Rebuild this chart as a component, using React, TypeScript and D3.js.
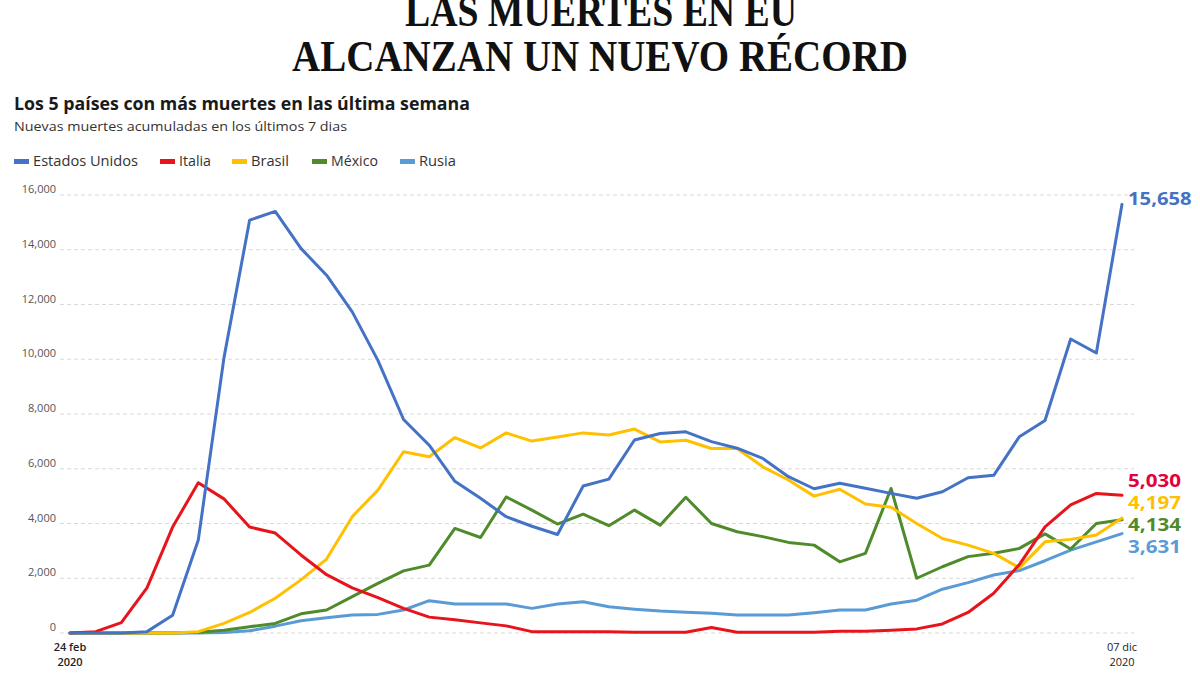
import React from "react";
import * as d3 from "d3";

const xLabels = [
  { idx: 0, l1: "24 feb", l2: "2020" },
  { idx: 41, l1: "07 dic", l2: "2020" },
];

const yTicks = [0, 2000, 4000, 6000, 8000, 10000, 12000, 14000, 16000];

const usa = [0, 0, 0, 50, 650, 3400, 10050, 15080, 15400, 14050, 13070, 11730, 9960, 7800, 6860, 5540, 4920, 4250, 3900, 3600, 5370, 5620, 7050, 7290, 7350, 6990, 6750, 6380, 5710, 5270, 5470, 5290, 5100, 4920, 5160, 5670, 5760, 7170, 7760, 10740, 10230, 15658];
const italia = [0, 50, 380, 1650, 3870, 5490, 4900, 3870, 3650, 2850, 2130, 1650, 1290, 900, 580, 480, 370, 260, 50, 50, 50, 50, 30, 30, 30, 200, 30, 30, 30, 30, 60, 60, 100, 150, 330, 750, 1450, 2500, 3880, 4680, 5100, 5030];
const brasil = [0, 0, 0, 0, 0, 50, 350, 750, 1270, 1940, 2700, 4250, 5220, 6620, 6440, 7140, 6760, 7310, 7010, 7160, 7310, 7230, 7450, 6980, 7040, 6740, 6740, 6070, 5590, 5000, 5250, 4710, 4590, 4000, 3450, 3210, 2910, 2380, 3330, 3420, 3580, 4197];
const mexico = [0, 0, 0, 0, 0, 30, 100, 230, 350, 700, 840, 1330, 1810, 2270, 2480, 3820, 3490, 4970, 4490, 3980, 4340, 3920, 4490, 3940, 4960, 4000, 3700, 3520, 3310, 3210, 2600, 2910, 5280, 2000, 2420, 2790, 2910, 3090, 3620, 3070, 4000, 4134];
const rusia = [0, 0, 0, 0, 0, 0, 20, 80, 250, 450, 560, 660, 680, 840, 1180, 1060, 1060, 1060, 900, 1060, 1140, 960, 870, 800, 760, 720, 660, 660, 660, 740, 840, 840, 1060, 1200, 1600, 1840, 2120, 2280, 2640, 3030, 3330, 3631];

const seriesNames = ["Estados Unidos", "Italia", "Brasil", "México", "Rusia"];
const seriesData = [usa, italia, brasil, mexico, rusia];
const seriesColors = ["#4472C4", "#E8141B", "#FFC000", "#4F8A2B", "#5B9BD5"];
const endLabelColors = ["#4472C4", "#E4003B", "#FFC000", "#4F8A2B", "#5B9BD5"];
const endLabels = ["15,658", "5,030", "4,197", "4,134", "3,631"];
const endLabelY = [199, 481, 503, 525, 547];

const legendX = [14, 160, 232, 312, 400];
const legendW = [105, 32, 38, 47, 37];

export default function App() {
  const x = d3.scaleLinear().domain([0, usa.length - 1]).range([70, 1122]);
  const y = d3.scaleLinear().domain([0, 16000]).range([633, 195]);
  const line = d3
    .line<number>()
    .x((_, i) => x(i))
    .y((d) => y(d));
  const fmt = d3.format(",");
  const sans = "'Open Sans', 'Noto Sans', sans-serif";
  const drawOrder = [4, 3, 2, 1, 0];

  return (
    <svg width={1200} height={675} style={{ position: "absolute", left: 0, top: 0, background: "#fff" }}>
      <rect width={1200} height={675} fill="#fff" />
      {/* Title */}
      <text x={601} y={26} textAnchor="middle" fontFamily="'Liberation Serif', serif" fontWeight="bold" fontSize={44} textLength={392} lengthAdjust="spacingAndGlyphs" fill="#111">
        LAS MUERTES EN EU
      </text>
      <text x={600} y={71} textAnchor="middle" fontFamily="'Liberation Serif', serif" fontWeight="bold" fontSize={44} textLength={616} lengthAdjust="spacingAndGlyphs" fill="#111">
        ALCANZAN UN NUEVO RÉCORD
      </text>
      {/* Subtitles */}
      <text x={14} y={110} fontFamily={sans} fontWeight="bold" fontSize={17} textLength={456} lengthAdjust="spacingAndGlyphs" fill="#1a1a1a">
        Los 5 países con más muertes en las última semana
      </text>
      <text x={14} y={131} fontFamily={sans} fontSize={13} textLength={333} lengthAdjust="spacingAndGlyphs" fill="#333">
        Nuevas muertes acumuladas en los últimos 7 dias
      </text>
      {/* Legend */}
      {seriesNames.map((n, i) => (
        <g key={n}>
          <rect x={legendX[i]} y={159} width={15} height={5} fill={seriesColors[i]} />
          <text x={legendX[i] + 19} y={166} fontFamily={sans} fontSize={14} textLength={legendW[i]} lengthAdjust="spacingAndGlyphs" fill="#333">
            {n}
          </text>
        </g>
      ))}
      {/* Grid */}
      {yTicks.map((t) => (
        <g key={t}>
          <line x1={60} x2={1134} y1={y(t)} y2={y(t)} stroke="#d9d9d9" strokeWidth={1} strokeDasharray="4,3" />
          <text x={56} y={y(t) - 2} textAnchor="end" fontFamily={sans} fontSize={11} fill="#555">
            {fmt(t)}
          </text>
        </g>
      ))}
      {/* X labels */}
      {xLabels.map((d) => (
        <g key={d.l1}>
          <text x={x(d.idx)} y={651} textAnchor="middle" fontFamily={sans} fontSize={11} fill="#222" fontWeight={d.idx === 0 ? 600 : 400}>
            {d.l1}
          </text>
          <text x={x(d.idx)} y={666} textAnchor="middle" fontFamily={sans} fontSize={11} fill="#222" fontWeight={d.idx === 0 ? 600 : 400}>
            {d.l2}
          </text>
        </g>
      ))}
      {/* Lines */}
      {drawOrder.map((i) => (
        <path key={seriesNames[i]} d={line(seriesData[i]) || ""} fill="none" stroke={seriesColors[i]} strokeWidth={3} strokeLinejoin="round" strokeLinecap="round" />
      ))}
      {/* End labels */}
      {endLabels.map((l, i) => (
        <text key={l} x={1128} y={endLabelY[i]} dy="0.35em" fontFamily={sans} fontWeight="bold" fontSize={17} textLength={l.length * 10.6} lengthAdjust="spacingAndGlyphs" fill={endLabelColors[i]}>
          {l}
        </text>
      ))}
    </svg>
  );
}
